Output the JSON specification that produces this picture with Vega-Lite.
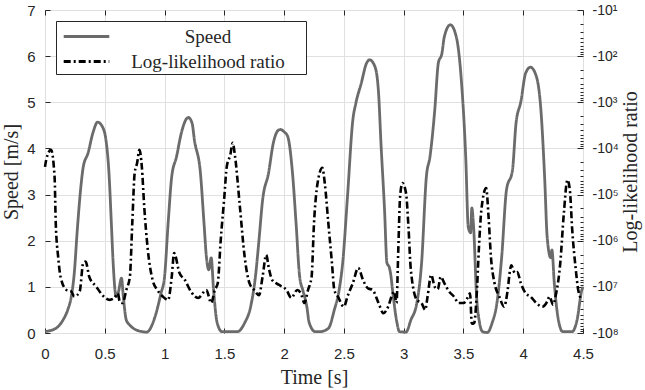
{
  "$schema": "https://vega.github.io/schema/vega-lite/v6.json",
  "width": 538,
  "height": 323,
  "autosize": {"type": "none"},
  "padding": {"left": 45, "top": 10, "right": 62, "bottom": 57},
  "background": "white",
  "config": {
    "view": {"stroke": "#262626", "strokeWidth": 1},
    "axis": {
      "labelFont": "Liberation Sans",
      "labelFontSize": 15,
      "labelColor": "#262626",
      "titleFont": "Liberation Serif",
      "titleFontSize": 20,
      "titleFontWeight": "normal",
      "titleColor": "#262626",
      "tickColor": "#262626",
      "domain": false,
      "gridColor": "#e0e0e0",
      "gridWidth": 1
    }
  },
  "datasets": {
    "speed": [
      {"t": 0, "speed": 0.03}, {"t": 0.09, "speed": 0.1}, {"t": 0.15, "speed": 0.28}, {"t": 0.19, "speed": 0.5},
      {"t": 0.22, "speed": 0.79}, {"t": 0.245, "speed": 1.3}, {"t": 0.27, "speed": 2.23}, {"t": 0.3, "speed": 3.17},
      {"t": 0.32, "speed": 3.6}, {"t": 0.36, "speed": 3.9}, {"t": 0.4, "speed": 4.33}, {"t": 0.44, "speed": 4.57},
      {"t": 0.48, "speed": 4.47}, {"t": 0.51, "speed": 4.18}, {"t": 0.535, "speed": 3.47}, {"t": 0.555, "speed": 2.38},
      {"t": 0.57, "speed": 1.52}, {"t": 0.595, "speed": 0.79}, {"t": 0.615, "speed": 0.9}, {"t": 0.64, "speed": 1.19},
      {"t": 0.655, "speed": 0.79}, {"t": 0.68, "speed": 0.28}, {"t": 0.71, "speed": 0.17}, {"t": 0.76, "speed": 0.07},
      {"t": 0.85, "speed": 0.02}, {"t": 0.92, "speed": 0.35}, {"t": 0.97, "speed": 0.86}, {"t": 1.0, "speed": 1.22},
      {"t": 1.03, "speed": 2.38}, {"t": 1.06, "speed": 3.39}, {"t": 1.1, "speed": 3.82}, {"t": 1.14, "speed": 4.33},
      {"t": 1.18, "speed": 4.63}, {"t": 1.2, "speed": 4.67}, {"t": 1.23, "speed": 4.55}, {"t": 1.25, "speed": 4.18},
      {"t": 1.3, "speed": 3.47}, {"t": 1.33, "speed": 2.38}, {"t": 1.35, "speed": 1.65}, {"t": 1.37, "speed": 1.37},
      {"t": 1.39, "speed": 1.63}, {"t": 1.41, "speed": 0.93}, {"t": 1.44, "speed": 0.22}, {"t": 1.48, "speed": 0.03},
      {"t": 1.61, "speed": 0.03}, {"t": 1.67, "speed": 0.22}, {"t": 1.72, "speed": 0.57}, {"t": 1.76, "speed": 1.22},
      {"t": 1.79, "speed": 2.02}, {"t": 1.82, "speed": 2.88}, {"t": 1.87, "speed": 3.47}, {"t": 1.91, "speed": 4.12},
      {"t": 1.95, "speed": 4.39}, {"t": 1.97, "speed": 4.41}, {"t": 2.0, "speed": 4.36}, {"t": 2.03, "speed": 4.26},
      {"t": 2.07, "speed": 3.47}, {"t": 2.1, "speed": 2.38}, {"t": 2.13, "speed": 1.22}, {"t": 2.16, "speed": 0.9},
      {"t": 2.19, "speed": 0.57}, {"t": 2.21, "speed": 0.22}, {"t": 2.26, "speed": 0.03}, {"t": 2.3, "speed": 0.03},
      {"t": 2.37, "speed": 0.1}, {"t": 2.42, "speed": 0.5}, {"t": 2.46, "speed": 0.93}, {"t": 2.49, "speed": 1.52},
      {"t": 2.53, "speed": 2.95}, {"t": 2.575, "speed": 4.62}, {"t": 2.6, "speed": 4.98}, {"t": 2.645, "speed": 5.41},
      {"t": 2.69, "speed": 5.85}, {"t": 2.715, "speed": 5.92}, {"t": 2.76, "speed": 5.77}, {"t": 2.79, "speed": 5.2},
      {"t": 2.81, "speed": 4.12}, {"t": 2.84, "speed": 2.67}, {"t": 2.86, "speed": 1.52}, {"t": 2.88, "speed": 1.42},
      {"t": 2.89, "speed": 1.3}, {"t": 2.91, "speed": 0.86}, {"t": 2.94, "speed": 0.28}, {"t": 2.965, "speed": 0.03},
      {"t": 3.02, "speed": 0.02}, {"t": 3.06, "speed": 0.28}, {"t": 3.11, "speed": 0.65}, {"t": 3.15, "speed": 1.52},
      {"t": 3.19, "speed": 3.39}, {"t": 3.22, "speed": 3.82}, {"t": 3.26, "speed": 4.83}, {"t": 3.29, "speed": 5.85},
      {"t": 3.32, "speed": 6.06}, {"t": 3.34, "speed": 6.42}, {"t": 3.39, "speed": 6.68}, {"t": 3.44, "speed": 6.42},
      {"t": 3.48, "speed": 5.56}, {"t": 3.52, "speed": 3.75}, {"t": 3.54, "speed": 2.3}, {"t": 3.56, "speed": 2.17},
      {"t": 3.57, "speed": 2.71}, {"t": 3.585, "speed": 2.3}, {"t": 3.61, "speed": 0.79}, {"t": 3.635, "speed": 0.22},
      {"t": 3.66, "speed": 0.03}, {"t": 3.7, "speed": 0.01}, {"t": 3.74, "speed": 0.22}, {"t": 3.78, "speed": 0.65},
      {"t": 3.82, "speed": 1.65}, {"t": 3.86, "speed": 3.1}, {"t": 3.91, "speed": 3.53}, {"t": 3.94, "speed": 4.55},
      {"t": 3.98, "speed": 5.01}, {"t": 4.02, "speed": 5.63}, {"t": 4.06, "speed": 5.76}, {"t": 4.11, "speed": 5.56},
      {"t": 4.15, "speed": 4.76}, {"t": 4.18, "speed": 3.32}, {"t": 4.2, "speed": 2.09}, {"t": 4.23, "speed": 1.63},
      {"t": 4.24, "speed": 1.8}, {"t": 4.26, "speed": 1.08}, {"t": 4.29, "speed": 0.35}, {"t": 4.33, "speed": 0.03},
      {"t": 4.41, "speed": 0.03}, {"t": 4.45, "speed": 0.28}, {"t": 4.49, "speed": 0.93}, {"t": 4.5, "speed": 1.0}
    ],
    "llr": [
      {"t": 0, "llr": -25100}, {"t": 0.01, "llr": -17800}, {"t": 0.05, "llr": -10700}, {"t": 0.08, "llr": -40700},
      {"t": 0.09, "llr": -417000}, {"t": 0.11, "llr": -2240000}, {"t": 0.13, "llr": -6030000}, {"t": 0.18, "llr": -11700000},
      {"t": 0.22, "llr": -12600000}, {"t": 0.245, "llr": -16200000}, {"t": 0.29, "llr": -12600000}, {"t": 0.32, "llr": -3020000},
      {"t": 0.34, "llr": -2820000}, {"t": 0.37, "llr": -6030000}, {"t": 0.43, "llr": -10000000}, {"t": 0.48, "llr": -15100000},
      {"t": 0.54, "llr": -19100000}, {"t": 0.58, "llr": -17400000}, {"t": 0.61, "llr": -13800000}, {"t": 0.625, "llr": -20900000},
      {"t": 0.65, "llr": -22400000}, {"t": 0.68, "llr": -11700000}, {"t": 0.71, "llr": -6030000}, {"t": 0.73, "llr": -417000},
      {"t": 0.75, "llr": -33900}, {"t": 0.77, "llr": -20900}, {"t": 0.79, "llr": -10700}, {"t": 0.81, "llr": -25100},
      {"t": 0.83, "llr": -182000}, {"t": 0.86, "llr": -1580000}, {"t": 0.9, "llr": -7080000}, {"t": 0.94, "llr": -11700000},
      {"t": 0.985, "llr": -16200000}, {"t": 1.03, "llr": -19100000}, {"t": 1.06, "llr": -6030000}, {"t": 1.08, "llr": -1860000},
      {"t": 1.125, "llr": -5010000}, {"t": 1.17, "llr": -7080000}, {"t": 1.22, "llr": -12600000}, {"t": 1.28, "llr": -17400000},
      {"t": 1.35, "llr": -11700000}, {"t": 1.39, "llr": -22400000}, {"t": 1.42, "llr": -11700000}, {"t": 1.445, "llr": -8320000},
      {"t": 1.47, "llr": -955000}, {"t": 1.5, "llr": -112000}, {"t": 1.52, "llr": -25100}, {"t": 1.55, "llr": -13800},
      {"t": 1.57, "llr": -7590}, {"t": 1.59, "llr": -15100}, {"t": 1.63, "llr": -182000}, {"t": 1.67, "llr": -2240000},
      {"t": 1.71, "llr": -8320000}, {"t": 1.75, "llr": -11700000}, {"t": 1.79, "llr": -15100000}, {"t": 1.82, "llr": -6030000},
      {"t": 1.85, "llr": -2040000}, {"t": 1.875, "llr": -4270000}, {"t": 1.9, "llr": -7080000}, {"t": 1.96, "llr": -9120000},
      {"t": 2.02, "llr": -11700000}, {"t": 2.06, "llr": -17400000}, {"t": 2.11, "llr": -11700000}, {"t": 2.14, "llr": -13800000},
      {"t": 2.17, "llr": -22400000}, {"t": 2.2, "llr": -11700000}, {"t": 2.23, "llr": -6030000}, {"t": 2.25, "llr": -417000},
      {"t": 2.28, "llr": -56200}, {"t": 2.32, "llr": -26300}, {"t": 2.34, "llr": -56200}, {"t": 2.37, "llr": -417000},
      {"t": 2.4, "llr": -3020000}, {"t": 2.42, "llr": -11700000}, {"t": 2.45, "llr": -16200000}, {"t": 2.5, "llr": -26900000},
      {"t": 2.53, "llr": -16200000}, {"t": 2.575, "llr": -8320000}, {"t": 2.62, "llr": -3890000}, {"t": 2.66, "llr": -7080000},
      {"t": 2.7, "llr": -10700000}, {"t": 2.74, "llr": -11700000}, {"t": 2.79, "llr": -22400000}, {"t": 2.83, "llr": -37200000},
      {"t": 2.87, "llr": -26900000}, {"t": 2.9, "llr": -15800000}, {"t": 2.92, "llr": -12600000}, {"t": 2.94, "llr": -22400000},
      {"t": 2.955, "llr": -1580000}, {"t": 2.97, "llr": -112000}, {"t": 2.99, "llr": -56200}, {"t": 3.02, "llr": -93300},
      {"t": 3.04, "llr": -501000}, {"t": 3.06, "llr": -4270000}, {"t": 3.11, "llr": -19100000}, {"t": 3.15, "llr": -22400000},
      {"t": 3.18, "llr": -31600000}, {"t": 3.2, "llr": -16200000}, {"t": 3.23, "llr": -5500000}, {"t": 3.26, "llr": -10000000},
      {"t": 3.285, "llr": -11200000}, {"t": 3.31, "llr": -6030000}, {"t": 3.34, "llr": -8320000}, {"t": 3.38, "llr": -12600000},
      {"t": 3.42, "llr": -16200000}, {"t": 3.46, "llr": -22400000}, {"t": 3.5, "llr": -22400000}, {"t": 3.54, "llr": -16200000},
      {"t": 3.555, "llr": -13800000}, {"t": 3.57, "llr": -63100000}, {"t": 3.59, "llr": -60300000}, {"t": 3.61, "llr": -16200000},
      {"t": 3.63, "llr": -1350000}, {"t": 3.65, "llr": -214000}, {"t": 3.69, "llr": -72400}, {"t": 3.71, "llr": -302000},
      {"t": 3.73, "llr": -2240000}, {"t": 3.76, "llr": -8320000}, {"t": 3.8, "llr": -16200000}, {"t": 3.84, "llr": -26900000},
      {"t": 3.87, "llr": -11700000}, {"t": 3.89, "llr": -4270000}, {"t": 3.9, "llr": -3390000}, {"t": 3.93, "llr": -5010000},
      {"t": 3.95, "llr": -4790000}, {"t": 3.98, "llr": -8320000}, {"t": 4.02, "llr": -13800000}, {"t": 4.06, "llr": -16200000},
      {"t": 4.11, "llr": -22400000}, {"t": 4.16, "llr": -26900000}, {"t": 4.2, "llr": -20900000}, {"t": 4.22, "llr": -16200000},
      {"t": 4.25, "llr": -24500000}, {"t": 4.27, "llr": -16200000}, {"t": 4.31, "llr": -3020000}, {"t": 4.34, "llr": -251000},
      {"t": 4.37, "llr": -47900}, {"t": 4.39, "llr": -79400}, {"t": 4.41, "llr": -589000}, {"t": 4.44, "llr": -4270000},
      {"t": 4.46, "llr": -11700000}, {"t": 4.49, "llr": -19100000}
    ]
  },
  "resolve": {"scale": {"y": "independent"}, "axis": {"x": "independent"}},
  "layer": [
    {
      "data": {"name": "speed"},
      "mark": {"type": "line", "strokeWidth": 2.8, "interpolate": "monotone"},
      "encoding": {
        "x": {
          "field": "t", "type": "quantitative",
          "scale": {"domain": [0, 4.5], "nice": false, "zero": false},
          "axis": {"orient": "bottom", "title": "Time [s]", "values": [0, 0.5, 1, 1.5, 2, 2.5, 3, 3.5, 4, 4.5],
                   "format": "~g", "tickSize": -5, "labelPadding": 18, "grid": true, "labelFlush": false, "titlePadding": 6}
        },
        "y": {
          "field": "speed", "type": "quantitative",
          "scale": {"domain": [0, 7], "nice": false},
          "axis": {"orient": "left", "title": "Speed [m/s]", "values": [0, 1, 2, 3, 4, 5, 6, 7],
                   "tickSize": -5, "labelPadding": 15, "grid": true, "labelFlush": false, "titlePadding": 5}
        },
        "color": {
          "datum": "Speed", "type": "nominal",
          "scale": {"domain": ["Speed", "Log-likelihood ratio"], "range": ["#6b6b6b", "#000000"]},
          "legend": {
            "title": "\u2003", "titleOrient": "right", "titleFontSize": 19, "titlePadding": 19,
            "orient": "top-left", "offset": 11,
            "fillColor": "white", "strokeColor": "#262626", "padding": 2,
            "symbolType": "M-1.9,0H1.9", "symbolSize": 576, "symbolStrokeWidth": 2.8, "symbolOffset": 15,
            "labelFont": "Liberation Serif", "labelFontSize": 19, "labelColor": "#262626",
            "labelAlign": "center", "labelOffset": 108, "rowPadding": 1, "labelLimit": 300
          }
        },
        "strokeDash": {
          "datum": "Speed", "type": "nominal",
          "scale": {"domain": ["Speed", "Log-likelihood ratio"], "range": [[1, 0], [7, 3, 2, 3]]},
          "legend": {
            "title": "\u2003", "titleOrient": "right", "titleFontSize": 19, "titlePadding": 19,
            "orient": "top-left", "offset": 11,
            "fillColor": "white", "strokeColor": "#262626", "padding": 2,
            "symbolType": "M-1.9,0H1.9", "symbolSize": 576, "symbolStrokeWidth": 2.8, "symbolOffset": 15,
            "labelFont": "Liberation Serif", "labelFontSize": 19, "labelColor": "#262626",
            "labelAlign": "center", "labelOffset": 108, "rowPadding": 1, "labelLimit": 300
          }
        }
      }
    },
    {
      "data": {"name": "llr"},
      "mark": {"type": "line", "strokeWidth": 2.6, "interpolate": "monotone"},
      "encoding": {
        "x": {
          "field": "t", "type": "quantitative",
          "scale": {"domain": [0, 4.5], "nice": false, "zero": false},
          "axis": {"orient": "top", "title": null, "labels": false, "values": [0, 0.5, 1, 1.5, 2, 2.5, 3, 3.5, 4, 4.5],
                   "tickSize": -5, "grid": false}
        },
        "y": {
          "field": "llr", "type": "quantitative",
          "scale": {"type": "log", "domain": [-100000000, -10], "nice": false},
          "axis": {
            "orient": "right", "title": "Log-likelihood ratio", "titleAngle": 270, "titlePadding": 22,
            "grid": false, "labelOverlap": false, "labelFlush": false, "labelPadding": 15, "labelFontSize": 14,
            "tickSize": {"condition": {"test": "abs(log(-datum.value)/LN10 - round(log(-datum.value)/LN10)) < 0.000001", "value": -6}, "value": -3},
            "labelExpr": "abs(log(-datum.value)/LN10 - round(log(-datum.value)/LN10)) < 0.000001 ? '-10' + substring('⁰¹²³⁴⁵⁶⁷⁸⁹', round(log(-datum.value)/LN10), round(log(-datum.value)/LN10) + 1) : ''",
            "values": [-10, -20, -30, -40, -50, -60, -70, -80, -90,
                       -100, -200, -300, -400, -500, -600, -700, -800, -900,
                       -1000, -2000, -3000, -4000, -5000, -6000, -7000, -8000, -9000,
                       -10000, -20000, -30000, -40000, -50000, -60000, -70000, -80000, -90000,
                       -100000, -200000, -300000, -400000, -500000, -600000, -700000, -800000, -900000,
                       -1000000, -2000000, -3000000, -4000000, -5000000, -6000000, -7000000, -8000000, -9000000,
                       -10000000, -20000000, -30000000, -40000000, -50000000, -60000000, -70000000, -80000000, -90000000,
                       -100000000]
          }
        },
        "color": {"datum": "Log-likelihood ratio", "type": "nominal"},
        "strokeDash": {"datum": "Log-likelihood ratio", "type": "nominal"}
      }
    }
  ]
}
